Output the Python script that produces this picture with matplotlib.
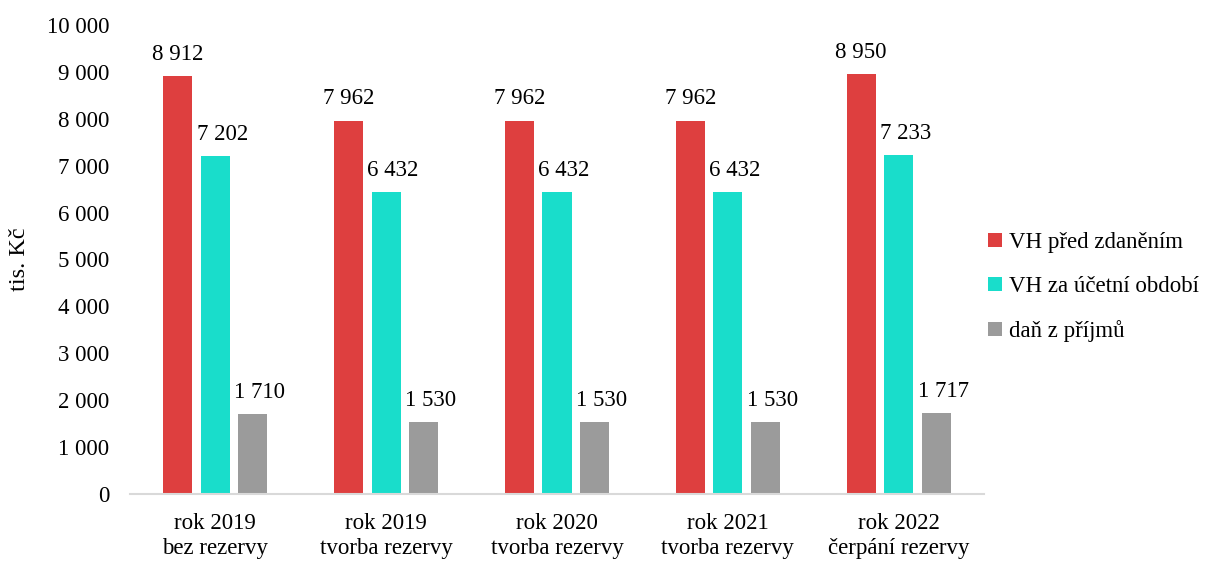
import matplotlib.pyplot as plt
import numpy as np

plt.rcParams['font.family'] = ['Liberation Serif', 'DejaVu Serif']

categories = ["rok 2019\nbez rezervy", "rok 2019\ntvorba rezervy", "rok 2020\ntvorba rezervy",
              "rok 2021\ntvorba rezervy", "rok 2022\nčerpání rezervy"]
series_names = ["VH před zdaněním", "VH za účetní období", "daň z příjmů"]
vh_pred = [8912, 7962, 7962, 7962, 8950]
vh_obdobi = [7202, 6432, 6432, 6432, 7233]
dan = [1710, 1530, 1530, 1530, 1717]
colors = ["#DE3F3F", "#19DDCB", "#9B9B9B"]

fs = 16.5

fig = plt.figure(figsize=(12.06, 5.62), dpi=100)
ax = fig.add_axes([130 / 1206, 1 - 494 / 562, (984 - 130) / 1206, (494 - 25) / 562])

x = np.arange(len(categories))
width = 0.17
step = 0.22
label_shift = [0.0, 0.04, 0.04]

for i, (vals, name, col) in enumerate(zip([vh_pred, vh_obdobi, dan], series_names, colors)):
    pos = x + (i - 1) * step
    ax.bar(pos, vals, width, color=col, label=name, zorder=2)
    for p, v in zip(pos, vals):
        label = f"{v:,}".replace(",", " ")
        ax.text(p + label_shift[i], v + 240, label, ha="center", va="bottom", fontsize=fs)

ax.set_xlim(-0.5, len(categories) - 0.5)
ax.set_ylim(0, 10000)
ax.set_yticks(range(0, 10001, 1000))
ax.set_yticklabels([f"{t:,}".replace(",", " ") for t in range(0, 10001, 1000)], fontsize=fs)
ax.set_xticks(x)
ax.set_xticklabels(categories, fontsize=fs, linespacing=1.25)
ax.tick_params(axis="both", length=0)
ax.tick_params(axis="y", pad=15)
ax.tick_params(axis="x", pad=14)
ax.set_ylabel("tis. Kč", fontsize=17.5, labelpad=12)

for s in ["top", "right", "left"]:
    ax.spines[s].set_visible(False)
ax.spines["bottom"].set_color("#D9D9D9")
ax.spines["bottom"].set_linewidth(1.5)

ax.legend(loc="center left", bbox_to_anchor=(1.0047, 0.441), frameon=False, fontsize=fs,
          borderaxespad=0, borderpad=0,
          handlelength=0.6, handleheight=0.6, handletextpad=0.3, labelspacing=1.0)

fig.savefig("out.png", dpi=100)
